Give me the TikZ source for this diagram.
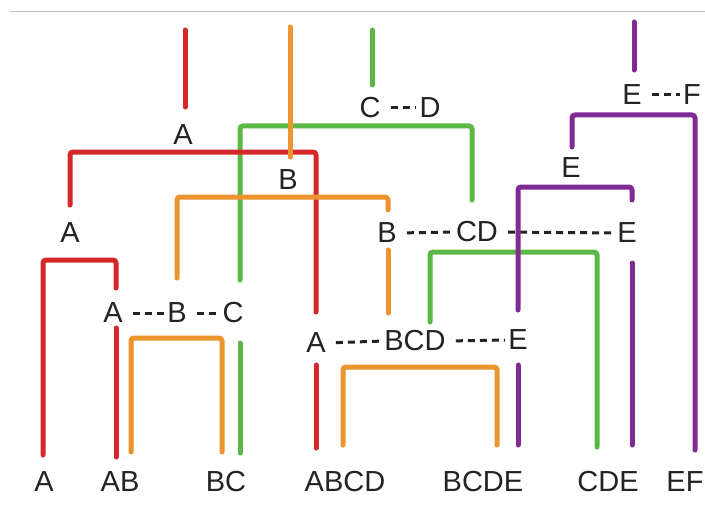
\documentclass[tikz,border=0pt]{standalone}
\usepackage{fontspec}
\setmainfont{Liberation Sans}
\definecolor{cr}{RGB}{214,40,40}
\definecolor{co}{RGB}{236,148,45}
\definecolor{cg}{RGB}{92,184,70}
\definecolor{cp}{RGB}{128,42,148}
\definecolor{txt}{RGB}{35,35,35}
\begin{document}
\begin{tikzpicture}[x=1pt,y=-1pt,
  lbl/.style={inner sep=0pt, font=\fontsize{29}{30}\selectfont, text=txt},
  br/.style={line width=5pt, rounded corners=3pt, line cap=round},
  dl/.style={line width=3pt, draw=txt, dash pattern=on 7pt off 5pt, shorten <=10pt, shorten >=3pt}]
\useasboundingbox[fill=white] (0,0) rectangle (705,511);
\draw[black!25, line width=1pt] (10,12) -- (705,12);

% labels
\node[lbl] (tA) at (183,135) {A};
\node[lbl] (lA) at (70,233) {A};
\node[lbl] (tB) at (288,180) {B};
\node[lbl] (c1) at (370,108) {C};
\node[lbl] (d1) at (430,108) {D};
\node[lbl] (e1) at (632,95) {E};
\node[lbl] (f1) at (692,95) {F};
\node[lbl] (eM) at (571,168) {E};
\node[lbl] (bB) at (387,233) {B};
\node[lbl] (bCD) at (477,232) {CD};
\node[lbl] (bE) at (627,233) {E};
\node[lbl] (aA) at (113,313) {A};
\node[lbl] (aB) at (177,313) {B};
\node[lbl] (aC) at (233,313) {C};
\node[lbl] (mA) at (316,343) {A};
\node[lbl] (mBCD) at (415,341) {BCD};
\node[lbl] (mE) at (518,340) {E};
\node[lbl] (x1) at (44,482) {A};
\node[lbl] (x2) at (120,482) {AB};
\node[lbl] (x3) at (226,482) {BC};
\node[lbl] (x4) at (345,482) {ABCD};
\node[lbl] (x5) at (483,482) {BCDE};
\node[lbl] (x6) at (608,482) {CDE};
\node[lbl] (x7) at (685,482) {EF};

% dashed links
\draw[dl] (aA.east) -- (aB.west);
\draw[dl] (aB.east) -- (aC.west);
\draw[dl] (c1.east) -- (d1.west);
\draw[dl] (e1.east) -- (f1.west);
\draw[dl] (bB.east) -- (bCD.west);
\draw[dl] (bCD.east) -- (bE.west);
\draw[dl] (mA.east) -- (mBCD.west);
\draw[dl] (mBCD.east) -- (mE.west);

% coordinates
\coordinate (g1a) at (372,30);  \coordinate (g1b) at (372,85);
\coordinate (g2a) at (240,280); \coordinate (g2m) at (472,126); \coordinate (g2b) at (472,200);
\coordinate (g3a) at (240,343); \coordinate (g3b) at (240,453);
\coordinate (g4a) at (430,322); \coordinate (g4m) at (597,252); \coordinate (g4b) at (597,447);

\coordinate (r1a) at (185,30);  \coordinate (r1b) at (185,107);
\coordinate (r2a) at (70,205);  \coordinate (r2m) at (316,152); \coordinate (r2b) at (316,312);
\coordinate (r3a) at (316,365); \coordinate (r3b) at (316,448);
\coordinate (r4a) at (43,455);  \coordinate (r4m) at (116,260); \coordinate (r4b) at (116,288);
\coordinate (r5a) at (116,328); \coordinate (r5b) at (116,457);

\coordinate (o1a) at (290,27);  \coordinate (o1b) at (290,157);
\coordinate (o2a) at (177,278); \coordinate (o2m) at (388,197); \coordinate (o2b) at (388,210);
\coordinate (o3a) at (388,250); \coordinate (o3b) at (388,313);
\coordinate (o4a) at (343,445); \coordinate (o4m) at (497,367); \coordinate (o4b) at (497,445);
\coordinate (o5a) at (131,452); \coordinate (o5m) at (222,338); \coordinate (o5b) at (222,452);

\coordinate (p1a) at (634,22);  \coordinate (p1b) at (634,70);
\coordinate (p2a) at (572,147); \coordinate (p2m) at (695,115); \coordinate (p2b) at (695,450);
\coordinate (p3a) at (518,310); \coordinate (p3m) at (632,187); \coordinate (p3b) at (632,200);
\coordinate (p4a) at (518,365); \coordinate (p4b) at (518,445);
\coordinate (p5a) at (632,263); \coordinate (p5b) at (632,445);

% green
\draw[br, cg] (g1a) -- (g1b);
\draw[br, cg] (g2a) |- (g2m) -- (g2b);
\draw[br, cg] (g3a) -- (g3b);
\draw[br, cg] (g4a) |- (g4m) -- (g4b);
% red
\draw[br, cr] (r1a) -- (r1b);
\draw[br, cr] (r2a) |- (r2m) -- (r2b);
\draw[br, cr] (r3a) -- (r3b);
\draw[br, cr] (r4a) |- (r4m) -- (r4b);
\draw[br, cr] (r5a) -- (r5b);
% orange
\draw[br, co] (o1a) -- (o1b);
\draw[br, co] (o2a) |- (o2m) -- (o2b);
\draw[br, co] (o3a) -- (o3b);
\draw[br, co] (o4a) |- (o4m) -- (o4b);
\draw[br, co] (o5a) |- (o5m) -- (o5b);
% purple
\draw[br, cp] (p1a) -- (p1b);
\draw[br, cp] (p2a) |- (p2m) -- (p2b);
\draw[br, cp] (p3a) |- (p3m) -- (p3b);
\draw[br, cp] (p4a) -- (p4b);
\draw[br, cp] (p5a) -- (p5b);
\end{tikzpicture}
\end{document}
